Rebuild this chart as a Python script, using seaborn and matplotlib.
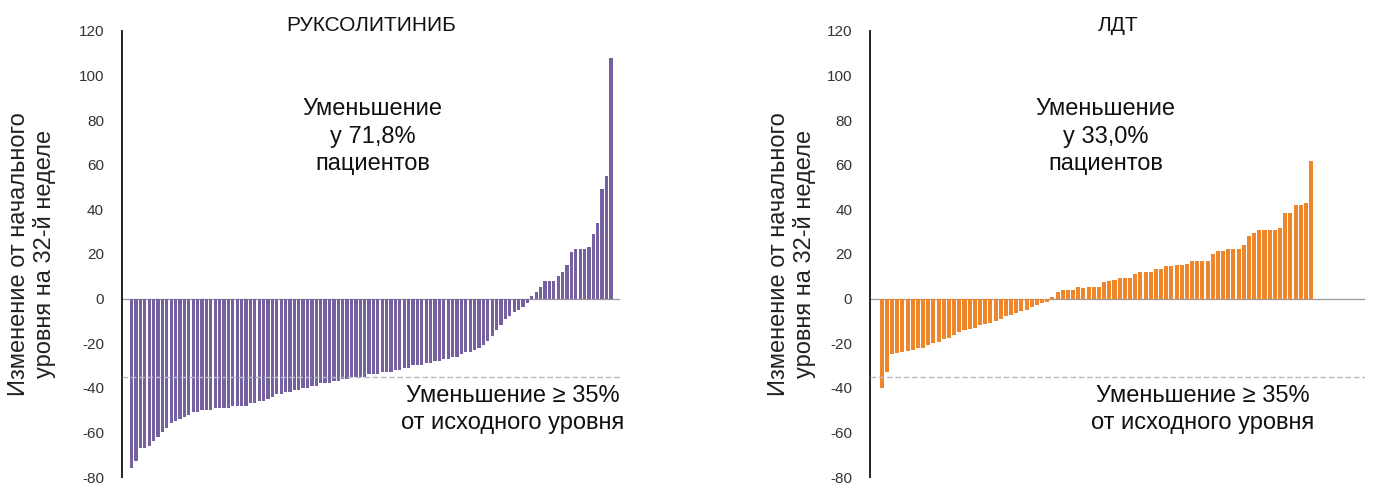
import matplotlib
matplotlib.use("Agg")
import matplotlib.pyplot as plt
import seaborn as sns
import numpy as np
import pandas as pd

sns.set_style("white")
plt.rcParams['font.family'] = ['Liberation Sans', 'DejaVu Sans']
plt.rcParams['axes.unicode_minus'] = False

# values (percent change from baseline, sorted)
rux_values = [
    -76, -73, -67, -67, -66, -64, -62, -60, -58, -56,
    -55, -54, -53, -52, -51, -51, -50, -50, -50, -49,
    -49, -49, -49, -48, -48, -48, -48, -47, -47, -46,
    -46, -45, -44, -43, -43, -42, -42, -41, -41, -40,
    -40, -39, -39, -38, -38, -38, -37, -37, -36, -36,
    -35, -35, -35, -35, -34, -34, -34, -33, -33, -33,
    -32, -32, -31, -31, -30, -30, -30, -29, -29, -28,
    -28, -27, -27, -26, -26, -25, -24, -24, -23, -22,
    -21, -19, -17, -14, -12, -9, -8, -6, -5, -4, -2,
    1, 3, 5, 8, 8, 8, 10, 12, 15, 21, 22, 22, 22, 23, 29, 34, 49, 55, 108,
]
bat_values = [
    -40, -33, -25, -24.5, -24, -23.5, -23, -22, -22, -21,
    -20, -19.5, -18, -17.5, -16.5, -15, -14, -13.5, -13, -12,
    -11.5, -11, -10, -9, -8, -7.5, -6.5, -5.5, -5, -4, -3, -2, -1.5,
    0.5, 3, 4, 4,
    4, 5, 4.6, 5, 5, 5, 7.3, 8, 8.5, 9, 9, 9.3, 11, 12, 12, 12,
    13.4, 13.4, 14.7, 14.7, 15, 15, 15.6, 17, 17, 17, 17, 20, 21.4, 21.4,
    22.3, 22.3, 22.3, 24, 28, 29.6, 30.8, 30.8, 30.8, 30.8, 31.8,
    38.5, 38.5, 42, 42, 43, 61.6,
]

titles = ["РУКСОЛИТИНИБ", "ЛДТ"]
shares = ["71,8%", "33,0%"]
yticks = [-80, -60, -40, -20, 0, 20, 40, 60, 80, 100, 120]
ylabel = "Изменение от начального\nуровня на 32-й неделе"
threshold = -35

fig = plt.figure(figsize=(13.75, 4.86), dpi=100)
ax1 = fig.add_axes([0.0887, 0.0185, 0.362, 0.918])
ax2 = fig.add_axes([0.633, 0.0185, 0.36, 0.918])

panels = [
    (ax1, rux_values, "#7560a0", 0.74, 2.0, titles[0], shares[0], 0.503, 0.785, 16),
    (ax2, bat_values, "#f0862a", 0.78, 10.5, titles[1], shares[1], 0.475, 0.672, 8),
]

for ax, vals, color, w, pad_right, title, share, xs, xt, lpad in panels:
    df = pd.DataFrame({"patient": np.arange(len(vals)), "change": vals})
    sns.barplot(data=df, x="patient", y="change", color=color, width=w,
                saturation=1, linewidth=0, ax=ax, zorder=3)
    n = len(vals)
    ax.set_xlim(-2.2, n - 1 + pad_right)
    ax.set_ylim(-80, 120)
    ax.axhline(0, color="#9a9a9a", lw=0.9, zorder=2)
    ax.axhline(threshold, color="#b8b8c8", lw=1.0, ls=(0, (4, 2)), zorder=4)

    for s in ["top", "right", "bottom"]:
        ax.spines[s].set_visible(False)
    ax.spines["left"].set_color("#222222")
    ax.spines["left"].set_linewidth(1.4)
    ax.set_xticks([])
    ax.set_xlabel("")
    ax.set_yticks(yticks)
    ax.tick_params(axis="y", direction="out", length=7, width=1.4,
                   color="#222222", labelsize=11, labelcolor="#333333", pad=6)
    ax.set_ylabel(ylabel, fontsize=17, color="#222222", labelpad=lpad,
                  linespacing=1.15)
    ax.set_title(title, fontsize=15, color="#111111", pad=0, y=1.0)

    ax.text(xs, 0.763, "Уменьшение\nу " + share + "\nпациентов",
            transform=ax.transAxes, ha="center", va="center", fontsize=17,
            color="#111111", linespacing=1.3)
    ax.text(xt, 0.152, "Уменьшение ≥ 35%\nот исходного уровня",
            transform=ax.transAxes, ha="center", va="center", fontsize=17,
            color="#111111", linespacing=1.3)

fig.savefig("out.png", dpi=100)
